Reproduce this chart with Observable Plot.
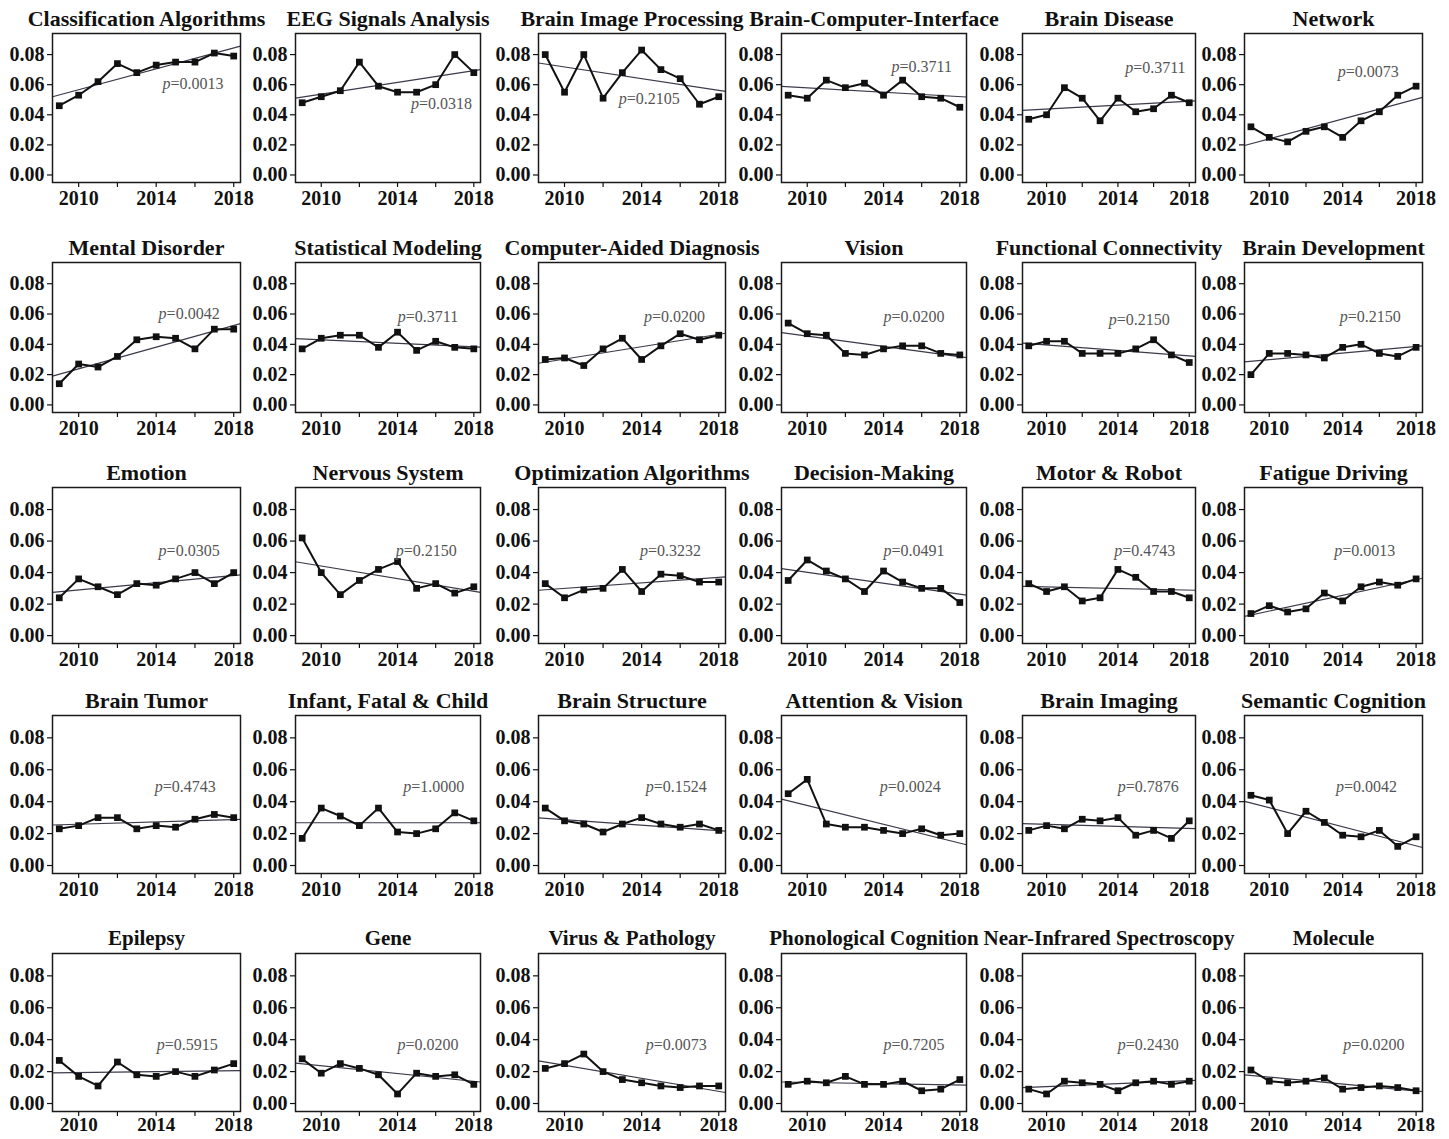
<!DOCTYPE html>
<html>
<head>
<meta charset="utf-8">
<script src="https://cdn.jsdelivr.net/npm/d3@7"></script>
<script src="https://cdn.jsdelivr.net/npm/@observablehq/plot@0.6"></script>
<style>
  html, body { margin: 0; padding: 0; background: #fff; }
  #board { position: relative; width: 1449px; height: 1139px; overflow: hidden; background: #fff; }
  #board svg { position: absolute; overflow: visible; }
</style>
</head>
<body>
<div id="board"></div>
<script>
// ---------------- data ----------------
const years = [2009, 2010, 2011, 2012, 2013, 2014, 2015, 2016, 2017, 2018];

const titles = [
  "Classification Algorithms", "EEG Signals Analysis", "Brain Image Processing", "Brain-Computer-Interface", "Brain Disease", "Network",
  "Mental Disorder", "Statistical Modeling", "Computer-Aided Diagnosis", "Vision", "Functional Connectivity", "Brain Development",
  "Emotion", "Nervous System", "Optimization Algorithms", "Decision-Making", "Motor & Robot", "Fatigue Driving",
  "Brain Tumor", "Infant, Fatal & Child", "Brain Structure", "Attention & Vision", "Brain Imaging", "Semantic Cognition",
  "Epilepsy", "Gene", "Virus & Pathology", "Phonological Cognition", "Near-Infrared Spectroscopy", "Molecule"
];

const pValues = [
  "0.0013", "0.0318", "0.2105", "0.3711", "0.3711", "0.0073",
  "0.0042", "0.3711", "0.0200", "0.0200", "0.2150", "0.2150",
  "0.0305", "0.2150", "0.3232", "0.0491", "0.4743", "0.0013",
  "0.4743", "1.0000", "0.1524", "0.0024", "0.7876", "0.0042",
  "0.5915", "0.0200", "0.0073", "0.7205", "0.2430", "0.0200"
];

// yearly share of each topic, 2009..2018
const shares = [
  [0.046, 0.053, 0.062, 0.074, 0.068, 0.073, 0.075, 0.075, 0.081, 0.079],
  [0.048, 0.052, 0.056, 0.075, 0.059, 0.055, 0.055, 0.060, 0.080, 0.068],
  [0.080, 0.055, 0.080, 0.051, 0.068, 0.083, 0.070, 0.064, 0.047, 0.052],
  [0.053, 0.051, 0.063, 0.058, 0.061, 0.053, 0.063, 0.052, 0.051, 0.045],
  [0.037, 0.040, 0.058, 0.051, 0.036, 0.051, 0.042, 0.044, 0.053, 0.048],
  [0.032, 0.025, 0.022, 0.029, 0.032, 0.025, 0.036, 0.042, 0.053, 0.059],
  [0.014, 0.027, 0.025, 0.032, 0.043, 0.045, 0.044, 0.037, 0.050, 0.050],
  [0.037, 0.044, 0.046, 0.046, 0.038, 0.048, 0.036, 0.042, 0.038, 0.037],
  [0.030, 0.031, 0.026, 0.037, 0.044, 0.030, 0.039, 0.047, 0.043, 0.046],
  [0.054, 0.047, 0.046, 0.034, 0.033, 0.037, 0.039, 0.039, 0.034, 0.033],
  [0.039, 0.042, 0.042, 0.034, 0.034, 0.034, 0.037, 0.043, 0.033, 0.028],
  [0.020, 0.034, 0.034, 0.033, 0.031, 0.038, 0.040, 0.034, 0.032, 0.038],
  [0.024, 0.036, 0.031, 0.026, 0.033, 0.032, 0.036, 0.040, 0.033, 0.040],
  [0.062, 0.040, 0.026, 0.035, 0.042, 0.047, 0.030, 0.033, 0.027, 0.031],
  [0.033, 0.024, 0.029, 0.030, 0.042, 0.028, 0.039, 0.038, 0.034, 0.034],
  [0.035, 0.048, 0.041, 0.036, 0.028, 0.041, 0.034, 0.030, 0.030, 0.021],
  [0.033, 0.028, 0.031, 0.022, 0.024, 0.042, 0.037, 0.028, 0.028, 0.024],
  [0.014, 0.019, 0.015, 0.017, 0.027, 0.022, 0.031, 0.034, 0.032, 0.036],
  [0.023, 0.025, 0.030, 0.030, 0.023, 0.025, 0.024, 0.029, 0.032, 0.030],
  [0.017, 0.036, 0.031, 0.025, 0.036, 0.021, 0.020, 0.023, 0.033, 0.028],
  [0.036, 0.028, 0.026, 0.021, 0.026, 0.030, 0.026, 0.024, 0.026, 0.022],
  [0.045, 0.054, 0.026, 0.024, 0.024, 0.022, 0.020, 0.023, 0.019, 0.020],
  [0.022, 0.025, 0.023, 0.029, 0.028, 0.030, 0.019, 0.022, 0.017, 0.028],
  [0.044, 0.041, 0.020, 0.034, 0.027, 0.019, 0.018, 0.022, 0.012, 0.018],
  [0.027, 0.017, 0.011, 0.026, 0.018, 0.017, 0.020, 0.017, 0.021, 0.025],
  [0.028, 0.019, 0.025, 0.022, 0.018, 0.006, 0.019, 0.017, 0.018, 0.012],
  [0.022, 0.025, 0.031, 0.020, 0.015, 0.013, 0.011, 0.010, 0.011, 0.011],
  [0.012, 0.014, 0.013, 0.017, 0.012, 0.012, 0.014, 0.008, 0.009, 0.015],
  [0.009, 0.006, 0.014, 0.013, 0.012, 0.008, 0.013, 0.014, 0.012, 0.014],
  [0.021, 0.014, 0.013, 0.014, 0.016, 0.009, 0.010, 0.011, 0.010, 0.008]
];

// trend line value at the left and right edge of each panel
const trendStart = [
  0.0520, 0.0510, 0.0744, 0.0589, 0.0429, 0.0196,
  0.0190, 0.0438, 0.0275, 0.0477, 0.0408, 0.0284,
  0.0274, 0.0469, 0.0288, 0.0425, 0.0312, 0.0122,
  0.0254, 0.0268, 0.0299, 0.0416, 0.0262, 0.0402,
  0.0192, 0.0253, 0.0267, 0.0135, 0.0099, 0.0180
];
const trendEnd = [
  0.0856, 0.0700, 0.0556, 0.0518, 0.0493, 0.0516,
  0.0537, 0.0382, 0.0473, 0.0312, 0.0321, 0.0390,
  0.0385, 0.0274, 0.0373, 0.0257, 0.0288, 0.0364,
  0.0289, 0.0268, 0.0216, 0.0130, 0.0231, 0.0113,
  0.0206, 0.0135, 0.0069, 0.0115, 0.0145, 0.0075
];

// where the p-value note sits (data coordinates)
const pYear = [
  2015.9, 2016.3, 2014.4, 2016.0, 2016.1, 2015.4,
  2015.7, 2015.6, 2015.7, 2015.6, 2015.2, 2015.5,
  2015.7, 2015.5, 2015.5, 2015.6, 2015.5, 2015.2,
  2015.5, 2015.9, 2015.8, 2015.4, 2015.7, 2015.3,
  2015.6, 2015.6, 2015.8, 2015.6, 2015.7, 2015.7
];
const pLevel = [
  0.0607, 0.0470, 0.0507, 0.0718, 0.0711, 0.0684,
  0.0600, 0.0580, 0.0582, 0.0582, 0.0560, 0.0578,
  0.0540, 0.0540, 0.0540, 0.0540, 0.0540, 0.0540,
  0.0490, 0.0490, 0.0490, 0.0490, 0.0490, 0.0490,
  0.0370, 0.0370, 0.0370, 0.0370, 0.0370, 0.0370
];

const yTicks = [0, 0.02, 0.04, 0.06, 0.08];
const xTicks = [2010, 2012, 2014, 2016, 2018];
const xLabelled = [2010, 2014, 2018];

// ---------------- layout ----------------
const X_DOMAIN = [2008.65, 2018.35];
const Y_DOMAIN = [-0.005, 0.094];
const layout = {
  colLeft:   [52, 295, 538, 781, 1022, 1244],
  colRight:  [240, 480, 725, 966, 1195, 1422],
  rowTop:    [33, 262, 487, 715, 953],
  rowBottom: [182, 412, 643, 873, 1111],
  ml: 52, mr: 10, mt: 34, mb: 30
};
const FONT = "'Liberation Serif', 'Times New Roman', 'DejaVu Serif', serif";

const board = document.getElementById("board");

titles.forEach((title, i) => {
  const col = i % 6, row = Math.floor(i / 6);
  const lastRow = row === 4;
  const fw = layout.colRight[col] - layout.colLeft[col];
  const fh = layout.rowBottom[row] - layout.rowTop[row];
  const data = years.map((year, k) => ({year, value: shares[i][k]}));
  const trend = [
    {year: X_DOMAIN[0], value: trendStart[i]},
    {year: X_DOMAIN[1], value: trendEnd[i]}
  ];

  const svg = Plot.plot({
    width: fw + layout.ml + layout.mr,
    height: fh + layout.mt + layout.mb,
    marginLeft: layout.ml,
    marginRight: layout.mr,
    marginTop: layout.mt,
    marginBottom: layout.mb,
    style: {fontFamily: FONT, fontSize: "20px", fontWeight: "bold", background: "transparent", overflow: "visible", color: "#111"},
    x: {domain: X_DOMAIN, label: null},
    y: {domain: Y_DOMAIN, label: null},
    marks: [
      Plot.axisY({ticks: yTicks, tickFormat: d3.format(".2f"), tickSize: 5, tickPadding: 3, label: null, strokeWidth: 1.2}),
      Plot.axisX({ticks: xTicks, tickFormat: d => xLabelled.includes(d) ? String(d) : "", tickSize: 5, tickPadding: lastRow ? 1 : 3, fontSize: lastRow ? 19 : 20, label: null, strokeWidth: 1.2}),
      Plot.line(trend, {x: "year", y: "value", stroke: "#3a3a4a", strokeWidth: 1.2}),
      Plot.line(data, {x: "year", y: "value", stroke: "#111", strokeWidth: 2}),
      Plot.dot(data, {x: "year", y: "value", symbol: "square", fill: "#111", stroke: "none", r: 3.8}),
      Plot.text([{x: pYear[i], y: pLevel[i], t: "p=" + pValues[i]}], {x: "x", y: "y", text: "t", fontSize: 16, fontWeight: "normal", fill: "#555"}),
      Plot.text([title], {frameAnchor: "top", lineAnchor: "middle", dy: -15, fontSize: lastRow ? 21 : 22, fontWeight: "bold", fill: "#111"}),
      Plot.frame({stroke: "#1a1a1a", strokeWidth: 1.5})
    ]
  });

  // italic "p" in the p-value note
  svg.querySelectorAll("text").forEach(t => {
    const s = t.textContent;
    if (s.startsWith("p=")) {
      t.textContent = "";
      const ns = "http://www.w3.org/2000/svg";
      const a = document.createElementNS(ns, "tspan");
      a.setAttribute("font-style", "italic");
      a.textContent = "p";
      const b = document.createElementNS(ns, "tspan");
      b.textContent = s.slice(1);
      t.appendChild(a);
      t.appendChild(b);
    }
  });

  svg.style.left = (layout.colLeft[col] - layout.ml) + "px";
  svg.style.top = (layout.rowTop[row] - layout.mt) + "px";
  board.appendChild(svg);
});
</script>
</body>
</html>
